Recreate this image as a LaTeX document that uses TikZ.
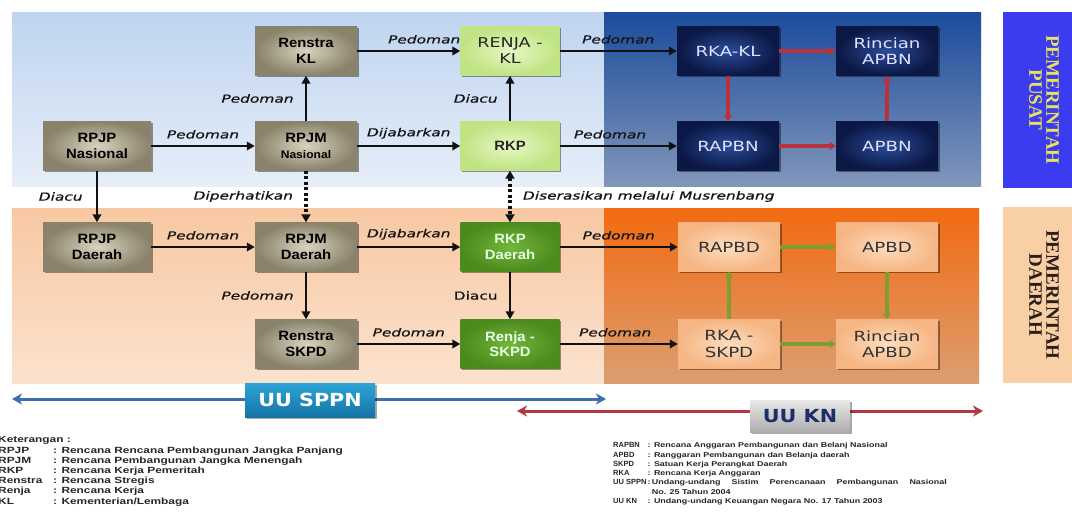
\documentclass[tikz,border=0pt]{standalone}
\usepackage{fontspec}
\setmainfont{Liberation Sans}
\newfontfamily\nodefont[FakeStretch=1.1]{Liberation Sans}
\newfontfamily\navyfont[FakeStretch=1.3]{DejaVu Sans}
\newfontfamily\lblfont[FakeStretch=1.4,FakeBold=0.6]{DejaVu Sans Oblique}
\newfontfamily\lblupfont[FakeStretch=1.4,FakeBold=0.6]{DejaVu Sans}
\newfontfamily\sidefont{Liberation Serif}
\newfontfamily\lawfont[FakeStretch=1.15]{DejaVu Sans}
\newfontfamily\legfont[FakeStretch=1.32]{Liberation Sans}
\newfontfamily\legsfont[FakeStretch=1.28]{Liberation Sans}
\newfontfamily\legAfont{Liberation Sans}
\newcommand\legab[1]{\makebox[33pt][l]{\legAfont\bfseries\fontsize{7.5}{9.3}\selectfont #1}}
\usetikzlibrary{arrows.meta,shadows}
\definecolor{bgblueT}{HTML}{BFD4F0}
\definecolor{bgblueB}{HTML}{E6EEF8}
\definecolor{dkblueT}{HTML}{1C4C9C}
\definecolor{dkblueB}{HTML}{8196BA}
\definecolor{ltorT}{HTML}{F8C8A2}
\definecolor{ltorB}{HTML}{FBE2CE}
\definecolor{dkorT}{HTML}{F26A12}
\definecolor{dkorB}{HTML}{DC9E70}
\definecolor{grayIn}{HTML}{D8D2BE}
\definecolor{grayOut}{HTML}{8A826A}
\definecolor{lgIn}{HTML}{E6F8C2}
\definecolor{lgOut}{HTML}{C0E384}
\definecolor{dgIn}{HTML}{74B53A}
\definecolor{dgOut}{HTML}{4B8B1E}
\definecolor{nvIn}{HTML}{2B4C98}
\definecolor{nvOut}{HTML}{0B1744}
\definecolor{obIn}{HTML}{FDDDBE}
\definecolor{obOut}{HTML}{F6B684}
\definecolor{pusatC}{HTML}{3B3BF0}
\definecolor{pusatT}{HTML}{E8E35A}
\definecolor{daerahC}{HTML}{F9CFA6}
\definecolor{daerahT}{HTML}{2A1E18}
\definecolor{redC}{HTML}{B7323C}
\definecolor{grnC}{HTML}{7F9E32}
\definecolor{arrC}{HTML}{111111}
\definecolor{lblC}{HTML}{141414}
\definecolor{sppnBlue}{HTML}{3D6CAF}
\definecolor{knRed}{HTML}{B03A40}
\definecolor{sppnT}{HTML}{2EA4D6}
\definecolor{sppnB}{HTML}{1474A6}
\definecolor{knT}{HTML}{E8E8E8}
\definecolor{knB}{HTML}{ADADAD}
\definecolor{knText}{HTML}{1B2D6B}
\definecolor{legC}{HTML}{262626}
\begin{document}
\begin{tikzpicture}[x=1pt,y=-1pt,
  box/.style={minimum width=102pt, minimum height=49pt, inner sep=2pt, align=center,
    drop shadow={shadow xshift=1.5pt, shadow yshift=-1.5pt, opacity=0.4, fill=black}},
  graybox/.style={box, inner color=grayIn, outer color=grayOut, text=black,
    font=\nodefont\bfseries\fontsize{13.5}{15.5}\selectfont},
  lgbox/.style={box, minimum width=99pt, inner color=lgIn, outer color=lgOut, text=black!85,
    font=\nodefont\bfseries\fontsize{13.5}{15.5}\selectfont},
  dgbox/.style={box, minimum width=99pt, inner color=dgIn, outer color=dgOut, text=white!90!green,
    font=\nodefont\bfseries\fontsize{13.5}{15.5}\selectfont},
  nvbox/.style={box, inner color=nvIn, outer color=nvOut, text=white!88!blue,
    font=\navyfont\fontsize{14}{16.5}\selectfont},
  obbox/.style={box, inner color=obIn, outer color=obOut, text=black!80,
    font=\navyfont\fontsize{14}{16.5}\selectfont},
  sidebox/.style={minimum width=69pt, minimum height=176pt, inner sep=0pt},
  sidelbl/.style={rotate=-90, align=center, inner sep=0pt, font=\sidefont\bfseries\fontsize{19}{17}\selectfont},
  lbl/.style={font=\lblfont\fontsize{11}{12}\selectfont, text=lblC, inner sep=1pt},
  lblup/.style={font=\lblupfont\fontsize{11}{12}\selectfont, text=lblC, inner sep=1pt},
  arr/.style={line width=2.8pt, draw=arrC, -{Triangle[length=8pt,width=8.5pt]}},
  redarr/.style={line width=4pt, draw=redC, -{Triangle[length=6pt,width=8pt]}},
  grnarr/.style={line width=4pt, draw=grnC, -{Triangle[length=6pt,width=8pt]}},
  dotarr/.style={line width=4pt, draw=arrC, dash pattern=on 3pt off 2.5pt, -{Triangle[length=8pt,width=9pt]}},
  dotdbl/.style={line width=4pt, draw=arrC, dash pattern=on 3pt off 2.5pt, {Triangle[length=8pt,width=9pt]}-{Triangle[length=8pt,width=9pt]}},
  bluedbl/.style={line width=3pt, draw=sppnBlue, {Stealth[length=10pt,width=11pt,inset=3pt]}-{Stealth[length=10pt,width=11pt,inset=3pt]}},
  reddbl/.style={line width=3pt, draw=knRed, {Stealth[length=10pt,width=11pt,inset=3pt]}-{Stealth[length=10pt,width=11pt,inset=3pt]}},
  sppnbox/.style={minimum width=130pt, minimum height=34pt, inner sep=0pt, top color=sppnT, bottom color=sppnB,
    text=white, font=\lawfont\bfseries\fontsize{18}{20}\selectfont,
    drop shadow={shadow xshift=1.5pt, shadow yshift=-1.5pt, opacity=0.35, fill=black}},
  knbox/.style={minimum width=100pt, minimum height=32pt, inner sep=0pt, top color=knT, bottom color=knB,
    text=knText, font=\lawfont\bfseries\fontsize{18}{20}\selectfont,
    drop shadow={shadow xshift=1.5pt, shadow yshift=-1.5pt, opacity=0.35, fill=black}}
]
\useasboundingbox (0,0) rectangle (1072,519);
\fill[white] (0,0) rectangle (1072,519);

% background regions
\shade[top color=bgblueT, bottom color=bgblueB] (12,13) rectangle (981,186);
\shade[top color=dkblueT, bottom color=dkblueB] (604,13) rectangle (981,186);
\shade[top color=ltorT, bottom color=ltorB] (12,208) rectangle (979,383);
\shade[top color=dkorT, bottom color=dkorB] (604,208) rectangle (979,383);

% side labels
\node[sidebox, fill=pusatC] (pusatbox) at (1037.5,100) {};
\node[sidelbl, text=pusatT] (pusatlbl) at (1044,100) {PEMERINTAH\\PUSAT};
\node[sidebox, fill=daerahC] (daerahbox) at (1037.5,295) {};
\node[sidelbl, text=daerahT] (daerahlbl) at (1044,295) {PEMERINTAH\\DAERAH};

% nodes: pusat
\node[graybox, minimum width=108pt] (rpjpn) at (97,146) {RPJP\\Nasional};
\node[graybox] (rpjmn) at (306,146) {RPJM\\{\fontsize{11}{12}\selectfont Nasional}};
\node[graybox] (renstrakl) at (306,51) {Renstra\\KL};
\node[lgbox, font=\navyfont\fontsize{13.5}{16}\selectfont] (renjakl) at (510,51) {RENJA -\\KL};
\node[lgbox] (rkp) at (510,146) {RKP};
\node[nvbox] (rkakl) at (728,51) {RKA-KL};
\node[nvbox] (rincapbn) at (887,51) {Rincian\\APBN};
\node[nvbox] (rapbn) at (728,146) {RAPBN};
\node[nvbox] (apbn) at (887,146) {APBN};

% nodes: daerah
\node[graybox, minimum width=108pt] (rpjpd) at (97,247) {RPJP\\Daerah};
\node[graybox] (rpjmd) at (306,247) {RPJM\\Daerah};
\node[dgbox] (rkpd) at (510,247) {RKP\\Daerah};
\node[graybox] (renstraskpd) at (306,344) {Renstra\\SKPD};
\node[dgbox] (renjaskpd) at (510,344) {Renja -\\SKPD};
\node[obbox] (rapbd) at (729,247) {RAPBD};
\node[obbox] (apbd) at (887,247) {APBD};
\node[obbox] (rkaskpd) at (729,344) {RKA -\\SKPD};
\node[obbox] (rincapbd) at (887,344) {Rincian\\APBD};

% connectors pusat
\draw[arr] (rpjpn) -- node[lbl, above=5pt] {Pedoman} (rpjmn);
\draw[arr] (rpjmn) -- node[lbl, above=5pt] {Dijabarkan} (rkp);
\draw[arr] (rpjmn) -- node[lbl, left=10pt] {Pedoman} (renstrakl);
\draw[arr] (renstrakl) -- node[lbl, above=5pt, pos=0.65] {Pedoman} (renjakl);
\draw[arr] (rkp) -- node[lbl, left=10pt] {Diacu} (renjakl);
\draw[arr] (renjakl) -- node[lbl, above=5pt] {Pedoman} (rkakl);
\draw[arr] (rkp) -- node[lbl, above=5pt, pos=0.43] {Pedoman} (rapbn);
\draw[redarr] (rkakl) -- (rincapbn);
\draw[redarr] (rkakl) -- (rapbn);
\draw[redarr] (rapbn) -- (apbn);
\draw[redarr] (apbn) -- (rincapbn);

% connectors between levels
\draw[arr] (rpjpn) -- node[lbl, left=12pt] {Diacu} (rpjpd);
\draw[dotarr] (rpjmn) -- node[lbl, left=10pt] {Diperhatikan} (rpjmd);
\draw[dotdbl] (rkp) -- node[lbl, right=10pt] {Diserasikan melalui Musrenbang} (rkpd);

% connectors daerah
\draw[arr] (rpjpd) -- node[lbl, above=5pt] {Pedoman} (rpjmd);
\draw[arr] (rpjmd) -- node[lbl, above=5pt] {Dijabarkan} (rkpd);
\draw[arr] (rpjmd) -- node[lbl, left=10pt] {Pedoman} (renstraskpd);
\draw[arr] (rkpd) -- node[lblup, left=10pt] {Diacu} (renjaskpd);
\draw[arr] (renstraskpd) -- node[lbl, above=5pt] {Pedoman} (renjaskpd);
\draw[arr] (rkpd) -- node[lbl, above=5pt] {Pedoman} (rapbd);
\draw[arr] (renjaskpd) -- node[lbl, above=5pt, pos=0.47] {Pedoman} (rkaskpd);
\draw[grnarr] (rapbd) -- (apbd);
\draw[grnarr] (apbd) -- (rincapbd);
\draw[grnarr] (rkaskpd) -- (rincapbd);
\draw[grnarr] (rkaskpd) -- (rapbd);

% law arrows
\coordinate (sppnL) at (12,399);
\coordinate (sppnR) at (606,399);
\draw[bluedbl] (sppnL) -- (sppnR);
\node[sppnbox] (uusppn) at (310,400) {UU SPPN};
\coordinate (knL) at (517,411);
\coordinate (knR) at (983,411);
\draw[reddbl] (knL) -- (knR);
\node[knbox] (uukn) at (800,416) {UU KN};

% legends
\node[anchor=north west, inner sep=0pt, text=legC, font=\legfont\bfseries\fontsize{9}{10.2}\selectfont] (legleft) at (-2,435.5)
{\begin{tabular}{@{}p{55pt}@{}l@{}}
\multicolumn{2}{@{}l}{Keterangan :}\\
RPJP & : Rencana Rencana Pembangunan Jangka Panjang\\
RPJM & : Rencana Pembangunan Jangka Menengah\\
RKP & : Rencana Kerja Pemeritah\\
Renstra & : Rencana Stregis\\
Renja & : Rencana Kerja\\
KL & : Kementerian/Lembaga
\end{tabular}};
\node[anchor=north west, inner sep=0pt, text=legC, font=\legsfont\bfseries\fontsize{7}{9.3}\selectfont] (legright) at (613,441)
{\begin{tabular}{@{}l@{\hspace{1.5pt}}l@{}}
\legab{RAPBN} & : Rencana Anggaran Pembangunan dan Belanj Nasional\\
\legab{APBD} & : Ranggaran Pembangunan dan Belanja daerah\\
\legab{SKPD} & : Satuan Kerja Perangkat Daerah\\
\legab{RKA} & : Rencana Kerja Anggaran\\
\legab{UU SPPN} & :\,\makebox[295pt][s]{Undang-undang Sistim Perencanaan Pembangunan Nasional}\\
 & \phantom{:\,}No. 25 Tahun 2004\\
\legab{UU KN} & : Undang-undang Keuangan Negara No. 17 Tahun 2003
\end{tabular}};
\end{tikzpicture}
\end{document}
